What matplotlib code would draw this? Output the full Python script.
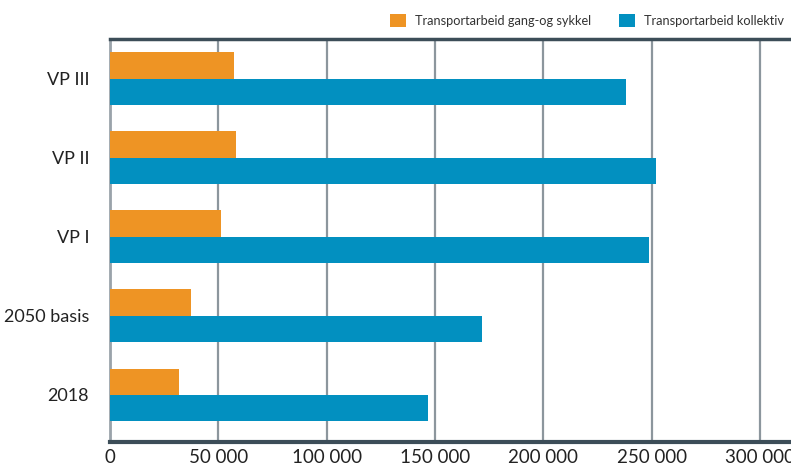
import matplotlib
matplotlib.use("Agg")
import matplotlib.pyplot as plt
from matplotlib.patches import Patch
import numpy as np

categories = ["2018", "2050 basis", "VP I", "VP II", "VP III"]
gang_sykkel = [31800, 37400, 51000, 58200, 57200]
kollektiv = [146800, 171700, 248800, 252000, 238200]
x_ticks = [0, 50000, 100000, 150000, 200000, 250000, 300000]
x_tick_labels = ["0", "50 000", "100 000", "150 000", "200 000", "250 000", "300 000"]
series_names = ["Transportarbeid gang-og sykkel", "Transportarbeid kollektiv"]

ORANGE = "#EE9424"
BLUE = "#0290C0"
DARK = "#3C4D58"
GRID = "#8C969D"
TEXT = "#222222"

plt.rcParams["font.family"] = ["Lato", "DejaVu Sans"]

fig = plt.figure(figsize=(7.91, 4.65), dpi=100)
ax = fig.add_axes([110 / 791, 1 - 442 / 465, 1 - 110 / 791, (442 - 39) / 465])

y = np.arange(len(categories))
h = 0.33
ax.barh(y + h / 2, gang_sykkel, height=h, color=ORANGE, zorder=3)
ax.barh(y - h / 2, kollektiv, height=h, color=BLUE, zorder=3)

ax.set_xlim(0, 314300)
ax.set_ylim(-0.6, len(categories) - 0.5)

ax.set_xticks(x_ticks)
ax.set_xticklabels(x_tick_labels, fontsize=13.5, color=TEXT)
ax.set_yticks(y)
ax.set_yticklabels(categories, fontsize=13, color=TEXT)
ax.tick_params(axis="both", length=0)
ax.tick_params(axis="x", pad=5)
ax.tick_params(axis="y", pad=15)

ax.xaxis.grid(True, color=GRID, linewidth=1.6, zorder=1)
ax.yaxis.grid(False)

ax.spines["right"].set_visible(False)
ax.spines["left"].set_color("#9AA3AA")
ax.spines["left"].set_linewidth(2)
ax.spines["bottom"].set_color(DARK)
ax.spines["bottom"].set_linewidth(3)
ax.spines["top"].set_color(DARK)
ax.spines["top"].set_linewidth(2.5)

handles = [Patch(facecolor=ORANGE, edgecolor="none"), Patch(facecolor=BLUE, edgecolor="none")]
fig.legend(handles, series_names, loc="upper right", bbox_to_anchor=(1.006, 0.995),
           ncol=2, frameon=False, fontsize=9.2, handlelength=1.25, handleheight=1.25,
           handletextpad=0.7, columnspacing=2.2, labelcolor="#333333")

fig.savefig("out.png", dpi=100)
